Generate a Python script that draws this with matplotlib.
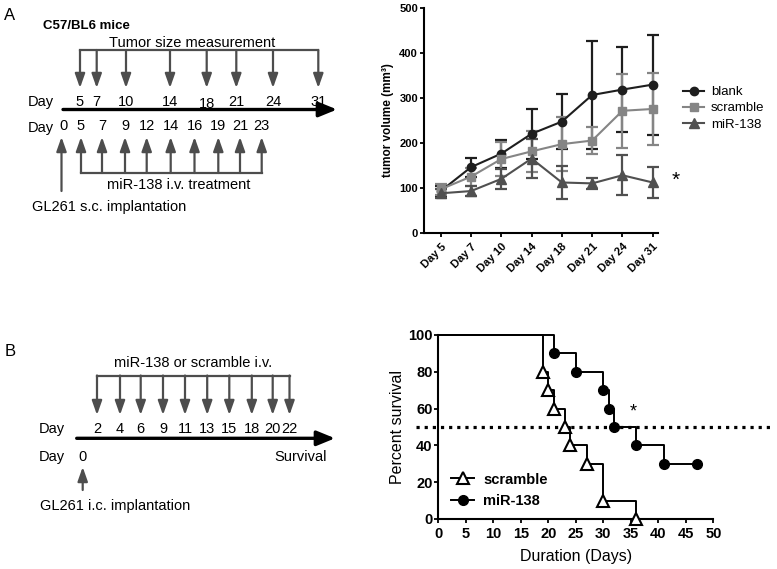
import numpy as np
import matplotlib
matplotlib.use("Agg")
import matplotlib.pyplot as plt
from matplotlib.lines import Line2D

plt.rcParams['font.family'] = ['Liberation Sans', 'DejaVu Sans']

# ---------------- data ----------------
# Panel A schematic
meas_days = [5, 7, 10, 14, 18, 21, 24, 31]
treat_days = [5, 7, 9, 12, 14, 16, 19, 21, 23]
# Panel B schematic
inj_days_B = [2, 4, 6, 9, 11, 13, 15, 18, 20, 22]

# Panel A tumour volume
tumor_days = ["Day 5", "Day 7", "Day 10", "Day 14", "Day 18", "Day 21", "Day 24", "Day 31"]
blank_mean = [93, 146, 176, 220, 247, 306, 318, 329]
blank_err = [12, 21, 31, 55, 61, 120, 94, 111]
scramble_mean = [97, 125, 164, 181, 197, 205, 271, 275]
scramble_err = [12, 20, 38, 45, 60, 29, 82, 79]
mir_mean = [88, 93, 120, 165, 112, 110, 128, 112]
mir_err = [10, 12, 22, 43, 36, 13, 44, 34]

# Panel B survival (Kaplan-Meier steps)
scr_t = [0, 19, 20, 21, 23, 24, 27, 30, 36]
scr_s = [100, 80, 70, 60, 50, 40, 30, 10, 0]
mir_t = [0, 21, 25, 30, 31, 32, 36, 41, 47]
mir_s = [100, 90, 80, 70, 60, 50, 40, 30, 30]

# ---------------- layout (schematic positions, px) ----------------
X_MEAS = [80, 96.7, 126, 170, 206.7, 236.3, 273, 318.3]
X_TREAT = [81, 102, 125, 146.7, 170.7, 194.5, 218.3, 240, 261.7]
X_IMPL_A = 61.5
X_B = [97, 120, 140.7, 163, 185, 207.2, 229.3, 251.8, 272.7, 289.5]
X_IMPL_B = 82.7

GRAY = '#4d4d4d'
FS = 10.5

fig = plt.figure(figsize=(7.77, 5.69), dpi=100)
ax0 = fig.add_axes([0, 0, 1, 1])
ax0.set_xlim(0, 777)
ax0.set_ylim(569, 0)
ax0.axis('off')


def arrow(x0, y0, x1, y1, color=GRAY, lw=1.6, hl=0.85, hw=0.3):
    ax0.annotate('', xy=(x1, y1), xytext=(x0, y0),
                 arrowprops=dict(arrowstyle=f'-|>,head_length={hl},head_width={hw}',
                                 color=color, lw=lw, shrinkA=0, shrinkB=0,
                                 mutation_scale=10))


# ---- Panel A schematic ----
ax0.text(4, 20, 'A', fontsize=12, va='baseline', ha='left')
ax0.text(43, 29, 'C57/BL6 mice', fontsize=9.5, fontweight='bold', va='baseline')
ax0.text(192.5, 47.3, 'Tumor size measurement', fontsize=FS, ha='center', va='baseline')
ax0.plot([X_MEAS[0], X_MEAS[-1]], [50, 50], color=GRAY, lw=1.6, solid_capstyle='projecting')
for x in X_MEAS:
    arrow(x, 50, x, 88)
ax0.text(28, 106, 'Day', fontsize=FS, va='baseline')
for d, x in zip(meas_days, X_MEAS):
    ax0.text(x, 107.5 if d == 18 else 106, str(d), fontsize=FS, ha='center', va='baseline')
arrow(63, 109.5, 337, 109.5, color='black', lw=2.4, hl=1.1, hw=0.45)
ax0.text(28, 131.5, 'Day', fontsize=FS, va='baseline')
ax0.text(X_IMPL_A + 1.5, 129.5, '0', fontsize=FS, ha='center', va='baseline')
for d, x in zip(treat_days, X_TREAT):
    ax0.text(x, 129.5, str(d), fontsize=FS, ha='center', va='baseline')
ax0.plot([X_TREAT[0], X_TREAT[-1]], [173, 173], color=GRAY, lw=1.6, solid_capstyle='projecting')
for x in X_TREAT:
    arrow(x, 173, x, 137)
arrow(X_IMPL_A, 191, X_IMPL_A, 137)
ax0.text(178.3, 188.5, 'miR-138 i.v. treatment', fontsize=FS, ha='center', va='baseline')
ax0.text(32, 210.5, 'GL261 s.c. implantation', fontsize=FS, va='baseline')

# ---- Panel B schematic ----
ax0.text(5, 356, 'B', fontsize=12, va='baseline', ha='left')
ax0.text(193, 366.7, 'miR-138 or scramble i.v.', fontsize=FS, ha='center', va='baseline')
ax0.plot([X_B[0], X_B[-1]], [375.5, 375.5], color=GRAY, lw=1.6, solid_capstyle='projecting')
for x in X_B:
    arrow(x, 375.5, x, 415)
ax0.text(39, 433, 'Day', fontsize=FS, va='baseline')
for d, x in zip(inj_days_B, X_B):
    ax0.text(x, 433, str(d), fontsize=FS, ha='center', va='baseline')
arrow(76.7, 438.3, 335, 438.3, color='black', lw=2.4, hl=1.1, hw=0.45)
ax0.text(39, 460.7, 'Day', fontsize=FS, va='baseline')
ax0.text(X_IMPL_B, 460.7, '0', fontsize=FS, ha='center', va='baseline')
ax0.text(326.7, 460.7, 'Survival', fontsize=FS, ha='right', va='baseline')
arrow(X_IMPL_B, 490, X_IMPL_B, 467)
ax0.text(40, 510, 'GL261 i.c. implantation', fontsize=FS, va='baseline')

# ---------------- tumour volume chart ----------------
ax1 = fig.add_axes([423.5 / 777, 1 - 233 / 569, 234.5 / 777, 225.5 / 569])
xi = np.arange(len(tumor_days))
series = [
    ('blank', blank_mean, blank_err, '#1e1e1e', 'o', 6),
    ('scramble', scramble_mean, scramble_err, '#858585', 's', 6),
    ('miR-138', mir_mean, mir_err, '#505050', '^', 7),
]
handles = []
for name, m, e, c, mk, ms in series:
    ax1.errorbar(xi, m, yerr=e, color=c, ecolor=c, elinewidth=1.6, capsize=4,
                 capthick=1.6, lw=1.5, marker=mk, ms=ms, mfc=c, mec=c, clip_on=False)
    handles.append(Line2D([], [], color=c, lw=1.5, marker=mk, ms=ms, mfc=c, mec=c, label=name))
ax1.set_xlim(-0.57, 7.175)
ax1.set_ylim(0, 500)
ax1.set_yticks([0, 100, 200, 300, 400, 500])
ax1.set_xticks(xi)
ax1.set_xticklabels(tumor_days, rotation=45, ha='right', rotation_mode='anchor')
for s in ['top', 'right']:
    ax1.spines[s].set_visible(False)
for s in ['left', 'bottom']:
    ax1.spines[s].set_linewidth(1.5)
ax1.tick_params(axis='both', direction='out', length=3, width=1.3, labelsize=8, pad=1)
ax1.tick_params(axis='x', pad=3)
for lab in ax1.get_xticklabels() + ax1.get_yticklabels():
    lab.set_fontweight('bold')
ax1.set_ylabel('tumor volume (mm³)', fontsize=8.5, fontweight='bold')
ax1.yaxis.set_label_coords(-0.126, 0.5)
ax1.text(7.77, 117, '*', fontsize=15, ha='center', va='center', clip_on=False)
fig.legend(handles=handles, loc='upper left', bbox_to_anchor=(683 / 777, 1 - 86 / 569),
           frameon=False, fontsize=9.5, handlelength=1.6, handletextpad=0.5,
           labelspacing=0.3, borderpad=0, borderaxespad=0)

# ---------------- survival chart ----------------
ax2 = fig.add_axes([438.3 / 777, 1 - 519 / 569, 275 / 777, 184 / 569])
ax2.step(scr_t, scr_s, where='post', color='black', lw=1.4, clip_on=False)
ax2.step(mir_t, mir_s, where='post', color='black', lw=1.4, clip_on=False)
ax2.plot(scr_t[1:], scr_s[1:], ls='none', marker='^', ms=8, mfc='white', mec='black',
         mew=1.5, clip_on=False, zorder=5)
ax2.plot(mir_t[1:], mir_s[1:], ls='none', marker='o', ms=7, mfc='black', mec='black',
         clip_on=False, zorder=5)
ax2.plot([-4.05, 60.85], [50, 50], color='black', lw=2.3, dashes=(1, 1.55),
         dash_capstyle='butt', clip_on=False)
ax2.text(35.5, 58, '*', fontsize=13, ha='center', va='center')
ax2.set_xlim(0, 50)
ax2.set_ylim(0, 100)
ax2.set_xticks(np.arange(0, 51, 5))
ax2.set_yticks(np.arange(0, 101, 20))
for s in ['top', 'right']:
    ax2.spines[s].set_visible(False)
for s in ['left', 'bottom']:
    ax2.spines[s].set_linewidth(1.5)
ax2.tick_params(axis='both', direction='out', length=3, width=1.3, labelsize=10.5)
ax2.tick_params(axis='y', pad=1)
ax2.tick_params(axis='x', pad=3)
for lab in ax2.get_xticklabels() + ax2.get_yticklabels():
    lab.set_fontweight('bold')
ax2.set_ylabel('Percent survival', fontsize=11.5)
ax2.yaxis.set_label_coords(-0.12, 0.5)
ax2.set_xlabel('Duration (Days)', fontsize=11.5)
ax2.xaxis.set_label_coords(0.5, -0.165)
h2 = [Line2D([], [], color='black', lw=1.4, marker='^', ms=8, mfc='white', mec='black', mew=1.5,
             label='scramble'),
      Line2D([], [], color='black', lw=1.4, marker='o', ms=7, mfc='black', label='miR-138')]
fig.legend(handles=h2, loc='upper left', bbox_to_anchor=(451 / 777, 1 - 472.5 / 569),
           frameon=False, handlelength=1.6, handletextpad=0.6, labelspacing=0.5,
           borderpad=0, borderaxespad=0, prop={'size': 10.5, 'weight': 'bold'})

fig.savefig('out.png', dpi=100)
